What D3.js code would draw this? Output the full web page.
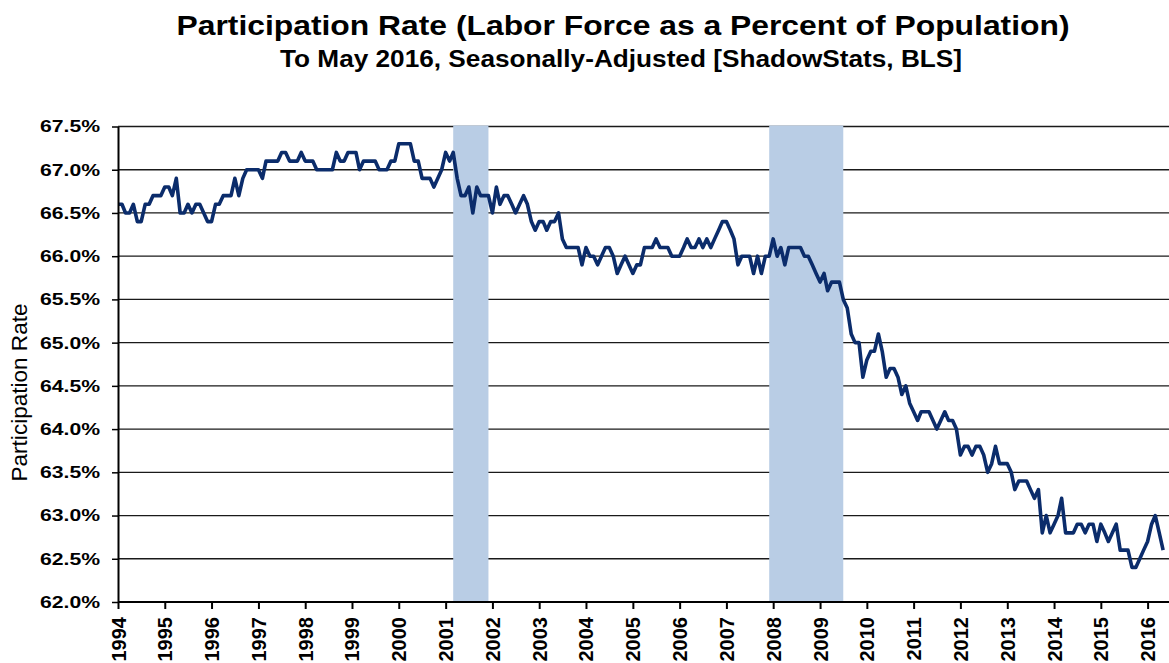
<!DOCTYPE html>
<html>
<head>
<meta charset="utf-8">
<title>Participation Rate</title>
<script src="https://cdnjs.cloudflare.com/ajax/libs/d3/7.8.5/d3.min.js"></script>
<style>
  body { margin: 0; background: #fff; }
  svg { display: block; font-family: "Liberation Sans", Arial, sans-serif; }
</style>
</head>
<body>
<script>
// monthly participation rate, Jan 1994 .. May 2016
var rate90s = [
  66.6, 66.6, 66.5, 66.5, 66.6, 66.4, 66.4, 66.6, 66.6, 66.7, 66.7, 66.7,
  66.8, 66.8, 66.7, 66.9, 66.5, 66.5, 66.6, 66.5, 66.6, 66.6, 66.5, 66.4,
  66.4, 66.6, 66.6, 66.7, 66.7, 66.7, 66.9, 66.7, 66.9, 67.0, 67.0, 67.0,
  67.0, 66.9, 67.1, 67.1, 67.1, 67.1, 67.2, 67.2, 67.1, 67.1, 67.1, 67.2,
  67.1, 67.1, 67.1, 67.0, 67.0, 67.0, 67.0, 67.0, 67.2, 67.1, 67.1, 67.2,
  67.2, 67.2, 67.0, 67.1, 67.1, 67.1, 67.1, 67.0, 67.0, 67.0, 67.1, 67.1
];
var rate00s = [
  67.3, 67.3, 67.3, 67.3, 67.1, 67.1, 66.9, 66.9, 66.9, 66.8, 66.9, 67.0,
  67.2, 67.1, 67.2, 66.9, 66.7, 66.7, 66.8, 66.5, 66.8, 66.7, 66.7, 66.7,
  66.5, 66.8, 66.6, 66.7, 66.7, 66.6, 66.5, 66.6, 66.7, 66.6, 66.4, 66.3,
  66.4, 66.4, 66.3, 66.4, 66.4, 66.5, 66.2, 66.1, 66.1, 66.1, 66.1, 65.9,
  66.1, 66.0, 66.0, 65.9, 66.0, 66.1, 66.1, 66.0, 65.8, 65.9, 66.0, 65.9,
  65.8, 65.9, 65.9, 66.1, 66.1, 66.1, 66.2, 66.1, 66.1, 66.1, 66.0, 66.0,
  66.0, 66.1, 66.2, 66.1, 66.1, 66.2, 66.1, 66.2, 66.1, 66.2, 66.3, 66.4,
  66.4, 66.3, 66.2, 65.9, 66.0, 66.0, 66.0, 65.8, 66.0, 65.8, 66.0, 66.0,
  66.2, 66.0, 66.1, 65.9, 66.1, 66.1, 66.1, 66.1, 66.0, 66.0, 65.9, 65.8,
  65.7, 65.8, 65.6, 65.7, 65.7, 65.7, 65.5, 65.4, 65.1, 65.0, 65.0, 64.6
];
var rate10s = [
  64.8, 64.9, 64.9, 65.1, 64.9, 64.6, 64.7, 64.7, 64.6, 64.4, 64.5, 64.3,
  64.2, 64.1, 64.2, 64.2, 64.2, 64.1, 64.0, 64.1, 64.2, 64.1, 64.1, 64.0,
  63.7, 63.8, 63.8, 63.7, 63.8, 63.8, 63.7, 63.5, 63.6, 63.8, 63.6, 63.6,
  63.6, 63.5, 63.3, 63.4, 63.4, 63.4, 63.3, 63.2, 63.3, 62.8, 63.0, 62.8,
  62.9, 63.0, 63.2, 62.8, 62.8, 62.8, 62.9, 62.9, 62.8, 62.9, 62.9, 62.7,
  62.9, 62.8, 62.7, 62.8, 62.9, 62.6, 62.6, 62.6, 62.4, 62.4, 62.5, 62.6,
  62.7, 62.9, 63.0, 62.8, 62.6
];
// recessions: [start, end] as [year, month index]
var recessions = [[[2001, 2], [2001, 11]], [[2007, 11], [2009, 6]]];
var yTicks = [62.0, 62.5, 63.0, 63.5, 64.0, 64.5, 65.0, 65.5, 66.0, 66.5, 67.0, 67.5];
var xYears = d3.range(1994, 2017);

var W = 1169, H = 663;
var plotLeft = 118, plotRight = 1169, plotTop = 126.5, plotBottom = 602;
var pxPerYear = 46.8;

var svg = d3.select("body").append("svg").attr("width", W).attr("height", H);

var values = rate90s.concat(rate00s, rate10s);
var data = values.map(function (v, i) {
  return { date: new Date(1994, i, 1), value: v };
});

var t0 = new Date(1994, 0, 1), t1 = new Date(2016, 0, 1);
var x = d3.scaleTime().domain([t0, t1]).range([plotLeft, plotLeft + 22 * pxPerYear]);
var y = d3.scaleLinear().domain([62, 67.5]).range([plotBottom, plotTop]);

// titles
svg.append("text").attr("x", 623).attr("y", 35).attr("text-anchor", "middle")
  .attr("font-size", 28).attr("font-weight", "bold")
  .attr("textLength", 893).attr("lengthAdjust", "spacingAndGlyphs")
  .text("Participation Rate (Labor Force as a Percent of Population)");
svg.append("text").attr("x", 621).attr("y", 66.5).attr("text-anchor", "middle")
  .attr("font-size", 23).attr("font-weight", "bold")
  .attr("textLength", 682).attr("lengthAdjust", "spacingAndGlyphs")
  .text("To May 2016, Seasonally-Adjusted [ShadowStats, BLS]");

// gridlines
svg.append("g").selectAll("line").data(yTicks.slice(1)).enter().append("line")
  .attr("x1", plotLeft).attr("x2", plotRight)
  .attr("y1", function (d) { return y(d); }).attr("y2", function (d) { return y(d); })
  .attr("stroke", "#1a1a1a").attr("stroke-width", 1.3);

// recession shading
svg.append("g").selectAll("rect").data(recessions).enter().append("rect")
  .attr("x", function (d) { return x(new Date(d[0][0], d[0][1], 1)); })
  .attr("width", function (d) { return x(new Date(d[1][0], d[1][1], 1)) - x(new Date(d[0][0], d[0][1], 1)); })
  .attr("y", plotTop - 1).attr("height", plotBottom - plotTop + 1)
  .attr("fill", "#b9cde5");

// series
var line = d3.line()
  .x(function (d) { return x(d.date); })
  .y(function (d) { return y(d.value); });
svg.append("path").datum(data)
  .attr("d", line)
  .attr("fill", "none")
  .attr("stroke", "#0b2c6b")
  .attr("stroke-width", 3.6)
  .attr("stroke-linejoin", "round");

// y axis
var yAxis = svg.append("g").attr("transform", "translate(" + plotLeft + ",0)")
  .call(d3.axisLeft(y).tickValues(yTicks)
    .tickFormat(function (d) { return d.toFixed(1) + "%"; })
    .tickSize(6).tickPadding(12).tickSizeOuter(0));
yAxis.select(".domain").attr("stroke", "#000").attr("stroke-width", 2);
yAxis.selectAll(".tick line").attr("stroke", "#000").attr("stroke-width", 1.5);
yAxis.selectAll("text")
  .attr("font-size", 17).attr("font-weight", "bold").attr("fill", "#000")
  .attr("font-family", "Liberation Sans, Arial, sans-serif")
  .attr("textLength", 60).attr("lengthAdjust", "spacingAndGlyphs");

// x axis
var xAxis = svg.append("g").attr("transform", "translate(0," + plotBottom + ")")
  .call(d3.axisBottom(x).tickValues(xYears.map(function (yr) { return new Date(yr, 0, 1); }))
    .tickFormat(d3.timeFormat("%Y")).tickSize(7).tickSizeOuter(0));
xAxis.select(".domain").attr("d", "M" + plotLeft + ",0H" + plotRight)
  .attr("stroke", "#000").attr("stroke-width", 2);
xAxis.selectAll(".tick line").attr("stroke", "#000").attr("stroke-width", 2);
xAxis.selectAll("text")
  .attr("font-size", 20).attr("font-weight", "bold").attr("fill", "#000")
  .attr("font-family", "Liberation Sans, Arial, sans-serif")
  .attr("transform", "rotate(-90)")
  .attr("text-anchor", "end")
  .attr("x", -15).attr("y", 0).attr("dy", "0.35em");

// y axis title
svg.append("text")
  .attr("transform", "translate(27,392.5) rotate(-90)")
  .attr("text-anchor", "middle")
  .attr("font-size", 22)
  .attr("textLength", 178).attr("lengthAdjust", "spacingAndGlyphs")
  .text("Participation Rate");
</script>
</body>
</html>
